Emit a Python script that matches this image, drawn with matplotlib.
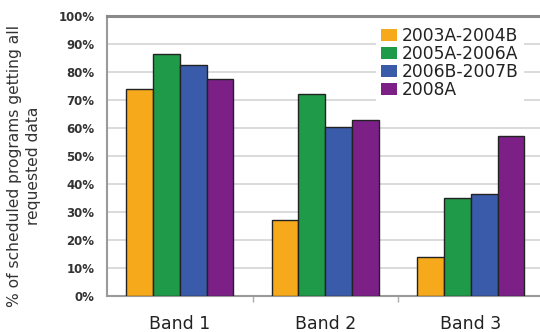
import matplotlib
matplotlib.use("Agg")
import matplotlib.pyplot as plt
import numpy as np

bands = ["Band 1", "Band 2", "Band 3"]
series_names = ["2003A-2004B", "2005A-2006A", "2006B-2007B", "2008A"]
s_2003_2004 = [74, 27, 14]
s_2005_2006 = [86.5, 72, 35]
s_2006_2007 = [82.5, 60.5, 36.5]
s_2008 = [77.5, 63, 57]
y_ticks = [0, 10, 20, 30, 40, 50, 60, 70, 80, 90, 100]

series = [s_2003_2004, s_2005_2006, s_2006_2007, s_2008]
colors = ["#F6A91B", "#1F9A48", "#3A5BAA", "#7C2088"]

fig = plt.figure(figsize=(5.4, 3.32), dpi=100)
ax = fig.add_axes([107 / 540, 36 / 332, 436.5 / 540, 280 / 332])

x = np.arange(len(bands))
width = 0.184
offsets = (np.arange(len(series)) - 1.5) * width
for vals, off, c, name in zip(series, offsets, colors, series_names):
    ax.bar(x + off, vals, width, color=c, edgecolor="#222222",
           linewidth=1.0, label=name, zorder=3)

ax.set_xlim(-0.5, 2.5)
ax.set_ylim(0, 100)
ax.set_yticks(y_ticks)
ax.set_yticklabels([f"{v}%" for v in y_ticks])
ax.yaxis.grid(True, color="#d4d4d4", linewidth=1.2, zorder=0)
ax.set_axisbelow(True)

ax.set_xticks(x)
ax.set_xticklabels(bands)
ax.set_xticks([0.5, 1.5], minor=True)
ax.tick_params(axis="x", which="major", length=0, pad=14, labelsize=12.5,
               labelcolor="#222222")
ax.tick_params(axis="x", which="minor", length=4, width=1, color="#aaaaaa",
               direction="out")
ax.tick_params(axis="y", length=0, pad=9, labelsize=8.5, labelcolor="#333333")
for lbl in ax.get_yticklabels():
    lbl.set_fontweight("bold")

for side in ["left", "bottom"]:
    ax.spines[side].set_color("#9a9a9a")
    ax.spines[side].set_linewidth(1.5)
ax.spines["top"].set_color("#8a8a8a")
ax.spines["top"].set_linewidth(2.2)
ax.spines["right"].set_visible(False)

fig.text(0.045, 0.5, "% of scheduled programs getting all\nrequested data",
         rotation=90, ha="center", va="center", fontsize=11.2,
         color="#333333", linespacing=1.35)

leg = ax.legend(loc="upper left", bbox_to_anchor=(376 / 540, 1 - 22 / 332),
                bbox_transform=fig.transFigure, frameon=True, fancybox=False,
                edgecolor="none", facecolor="white", framealpha=1.0,
                fontsize=12.3, labelspacing=0.0, handlelength=0.9,
                handleheight=0.75, handletextpad=0.3, borderpad=0.3,
                borderaxespad=0)
for t in leg.get_texts():
    t.set_color("#222222")
for h in leg.legend_handles:
    h.set_edgecolor("none")

fig.savefig("out.png", dpi=100)
